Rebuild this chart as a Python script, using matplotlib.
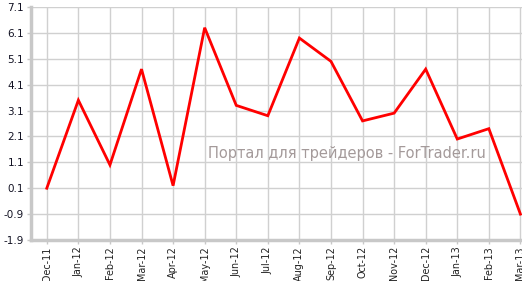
import numpy as np
import matplotlib
matplotlib.use("Agg")
import matplotlib.pyplot as plt

months = ["Dec-11", "Jan-12", "Feb-12", "Mar-12", "Apr-12", "May-12", "Jun-12",
          "Jul-12", "Aug-12", "Sep-12", "Oct-12", "Nov-12", "Dec-12", "Jan-13",
          "Feb-13", "Mar-13"]
values = [0.1, 3.5, 1.0, 4.7, 0.2, 6.3, 3.3, 2.9, 5.9, 5.0, 2.7, 3.0, 4.7,
          2.0, 2.4, -0.9]
yticks = [-1.9, -0.9, 0.1, 1.1, 2.1, 3.1, 4.1, 5.1, 6.1, 7.1]

fig = plt.figure(figsize=(5.22, 2.81), dpi=100)
ax = fig.add_axes([31 / 522, 41 / 281, (522 - 31) / 522, (240 - 7) / 281])

x = np.arange(len(months))
ax.plot(x, values, color="#ff0000", lw=2, solid_joinstyle="miter", zorder=3, clip_on=False)

ax.set_xlim(-0.5, len(months) - 1 + 0.05)
ax.set_ylim(-1.9, 7.1)
ax.set_yticks(yticks)
ax.set_yticklabels([f"{v:.1f}" for v in yticks], fontsize=7.5, color="#111122")
ax.set_xticks(x)
ax.set_xticklabels(months, rotation=90, fontsize=6.9, color="#222222")

ax.grid(True, color="#d0d0d0", lw=1)
ax.set_axisbelow(True)
for s in ["top", "right"]:
    ax.spines[s].set_visible(False)
for s in ["left", "bottom"]:
    ax.spines[s].set_color("#c8c8c8")
    ax.spines[s].set_linewidth(2.5)
ax.tick_params(axis="both", length=3, width=1, color="#c8c8c8", pad=2)
ax.tick_params(axis="x", pad=1.5)

ax.text(0.643, 0.37, "Портал для трейдеров - ForTrader.ru", transform=ax.transAxes,
        ha="center", va="center", fontsize=10.5, color="#a49a9a")

fig.savefig("out.png", dpi=100)
